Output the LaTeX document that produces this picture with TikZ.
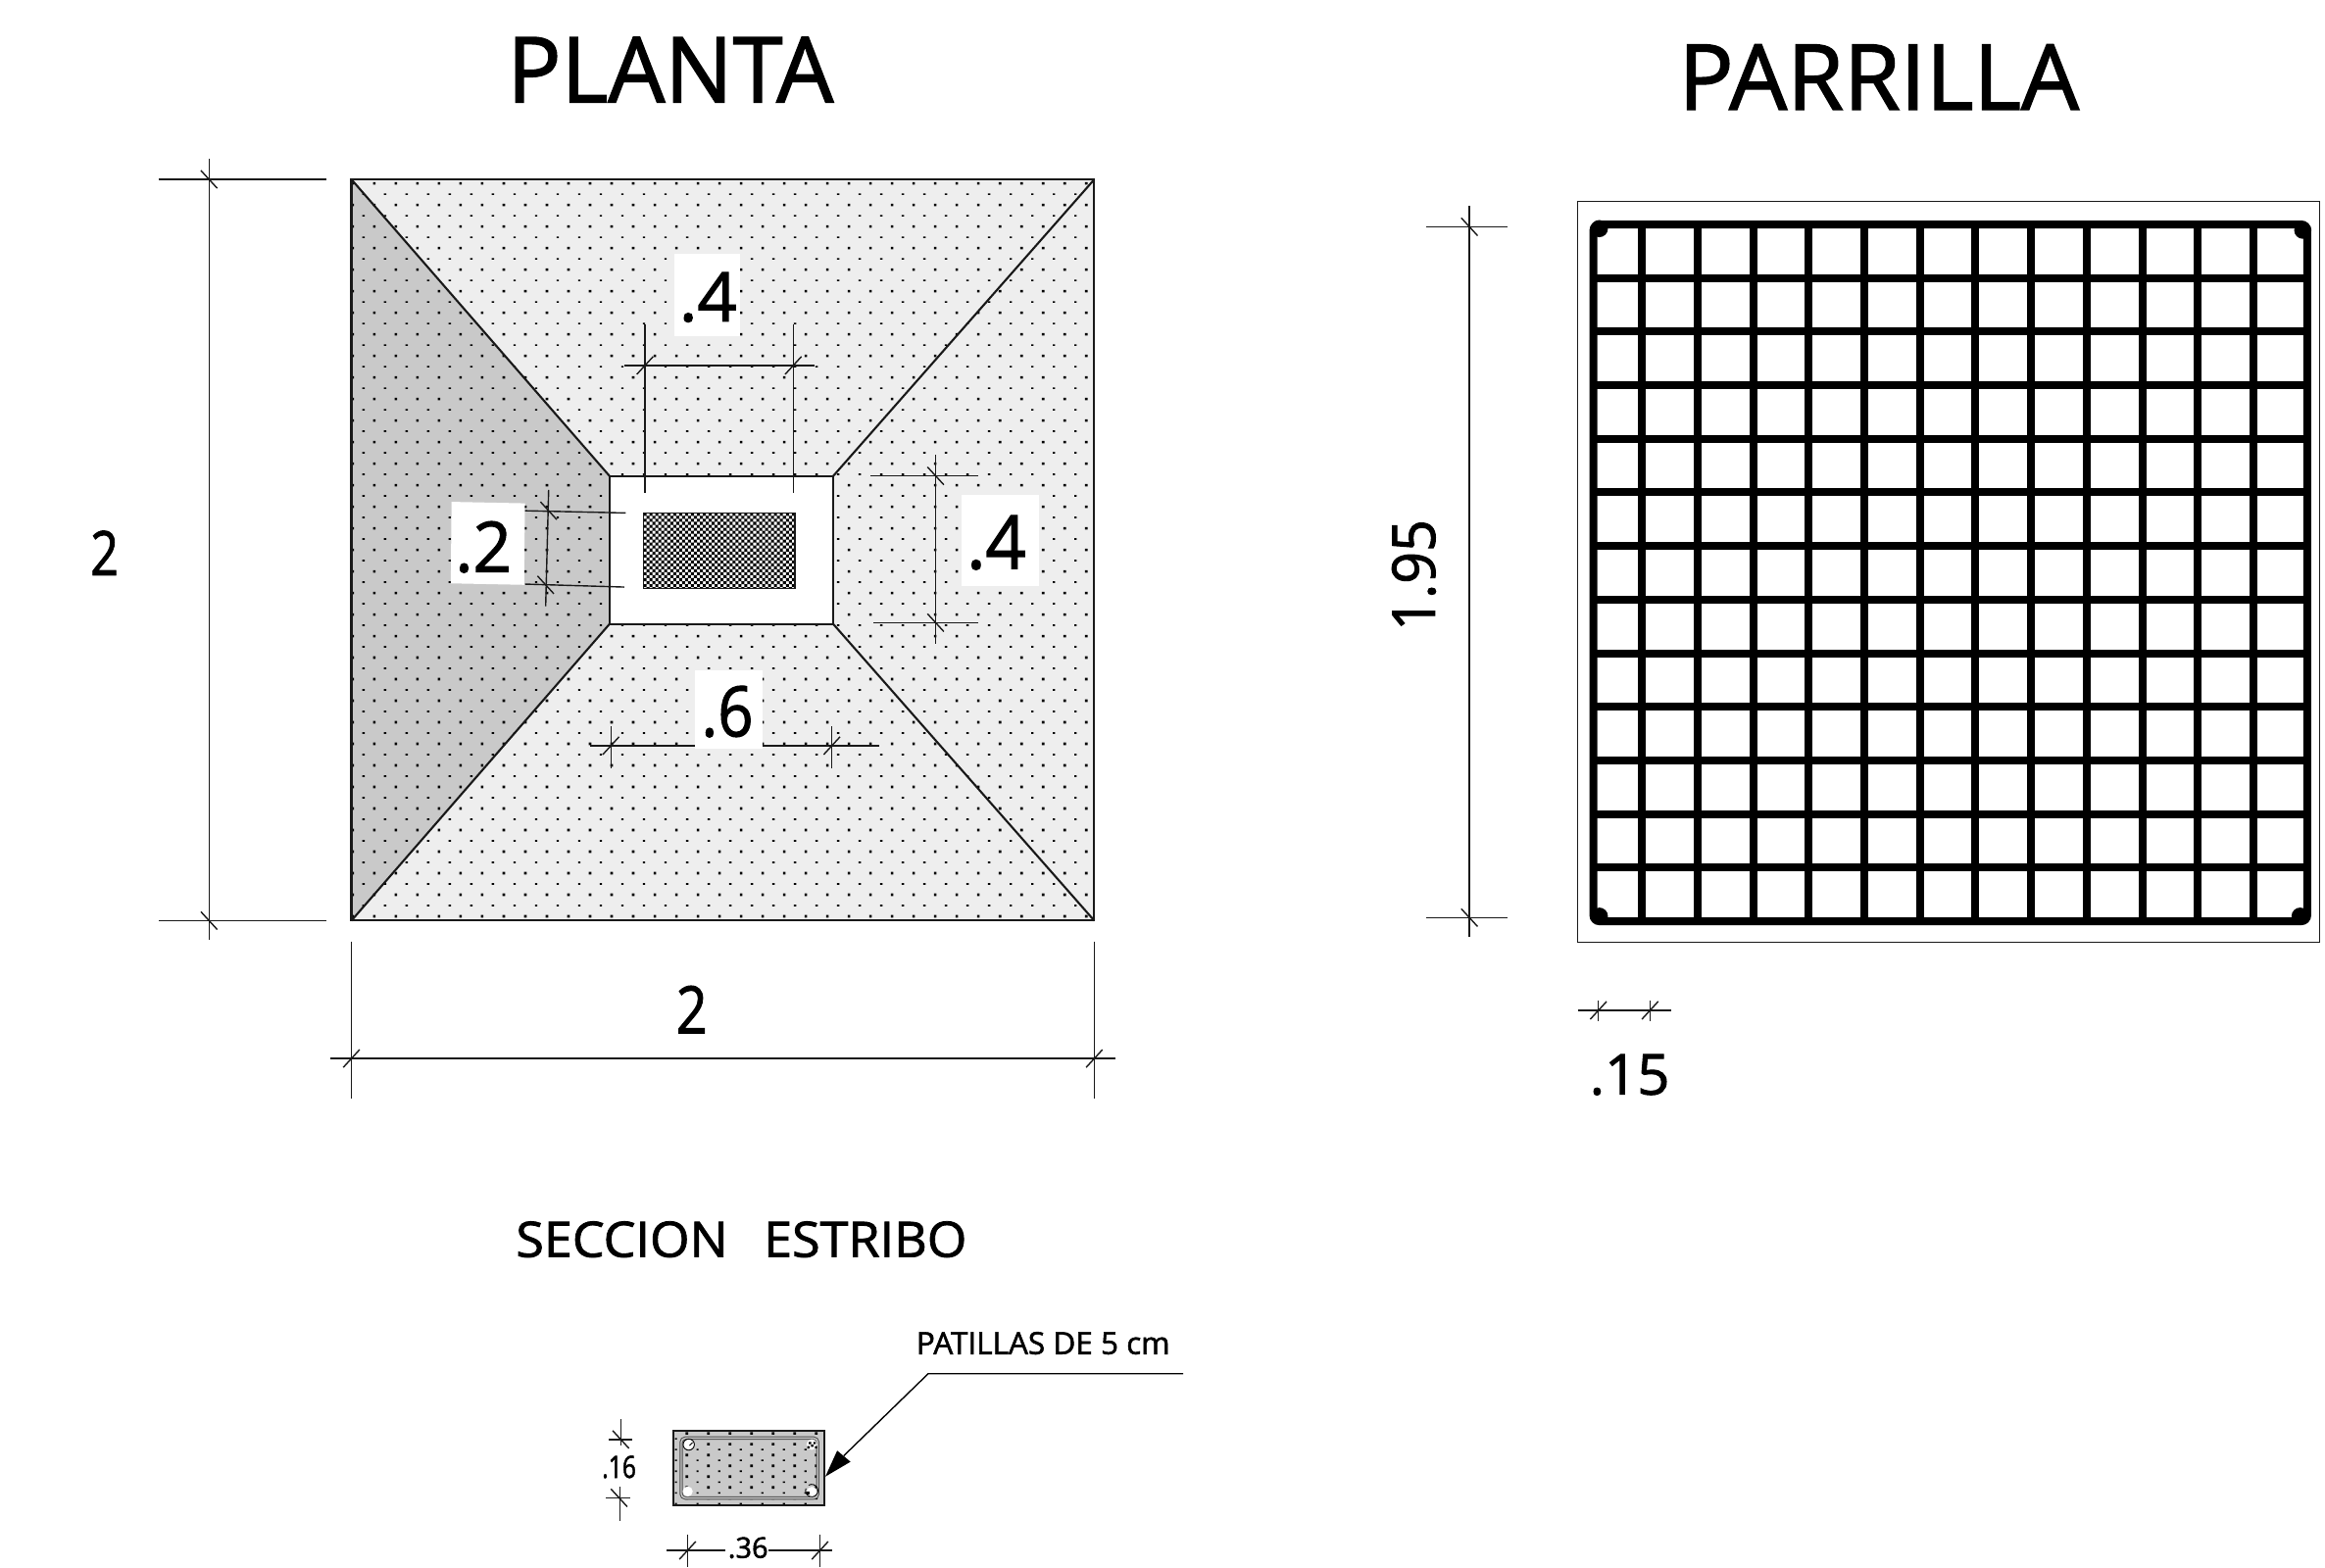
\documentclass[tikz,border=0pt]{standalone}
\usepackage{fontspec}
\usepackage{graphicx}
\setmainfont{Open Sans}[FakeBold=1.6]
\newlength\uu \setlength\uu{1.5128pt}
\newcommand\fitt[3]{\resizebox{#1\uu}{#2\uu}{#3}}
\definecolor{lightp}{HTML}{EEEEEE}
\definecolor{darkp}{HTML}{C9C9C9}
\tikzset{
  dimline/.style={line width=1.4pt,black!90},
  edgeline/.style={line width=2.1pt,black!90},
  lab/.style={inner sep=0pt,outer sep=0pt,anchor=center},
  whitepad/.style={fill=white,draw=none},
  barline/.style={line width=8pt,black}
}
\newcommand\tks[2]{\draw[dimline] ({#1-5.5},{#2+6}) -- ({#1+5.5},{#2-6});}
\newcommand\tkb[2]{\draw[dimline] ({#1-5.5},{#2-6}) -- ({#1+5.5},{#2+6});}
\begin{document}
\begin{tikzpicture}[x=1.5128pt,y=-1.5128pt]
\useasboundingbox (0,0) rectangle (1568,1057.6);
\fill[white] (0,0) rectangle (1568,1057.6);
% plan fills
\fill[lightp] (237,121) rectangle (738,621);
\fill[darkp] (237,121) -- (411,321) -- (411,421) -- (237,621) -- cycle;
% dots
\begin{scope}
\clip (237,121) rectangle (738,621);
\fill[black] foreach \r in {0,2,...,68} { foreach \c in {0,...,35} {
  ({237.9+14.55*\c-0.85},{123.7+7.27*\r-0.85}) rectangle +(1.7,1.7) } };
\fill[black] foreach \r in {1,3,...,67} { foreach \c in {0,...,35} {
  ({245.17+14.55*\c-0.8},{123.7+7.27*\r-0.55}) rectangle +(1.6,1.1) } };
\end{scope}
\fill[white] (411,321) rectangle (562,421);
\draw[edgeline] (237,121) rectangle (738,621);
\draw[edgeline] (411,321) rectangle (562,421);
\draw[edgeline] (237,121) -- (411,321) (738,121) -- (562,321) (237,621) -- (411,421) (738,621) -- (562,421);
% column
\begin{scope}
\clip (434,346) rectangle (536,397);
\fill[white] (434,346) rectangle (536,397);
\fill[black] foreach \r in {0,...,25} { foreach \c in {0,...,25} {
  ({434+4*\c+2*mod(\r,2)},{346+2*\r}) rectangle +(2,2) } };
\end{scope}
\draw[dimline] (434,346) rectangle (536,397);
% white pads
\fill[whitepad] (455,171) rectangle (499,227);
\fill[whitepad] (648.5,334) rectangle (700.6,395);
\fill[whitepad] (304.5,338.5) -- (354,339.5) -- (353.5,394.5) -- (304,393.5) -- cycle;
\fill[whitepad] (469,452) rectangle (514,505);
% outer dims
\draw[dimline] (141,107) -- (141,634) (107,121) -- (220,121) (107,621) -- (220,621);
\tkb{141}{121} \tkb{141}{621}
\node[lab] (dimleft) at (70.5,373) {\fitt{19}{30}{2}};
\draw[dimline] (223,714) -- (752,714) (237,635) -- (237,741) (738,635) -- (738,741);
\tks{237}{714} \tks{738}{714}
\node[lab] (dimbottom) at (466.5,681) {\fitt{21}{32}{2}};
% top .4
\draw[dimline] (435,219) -- (435,332.5) (535,219) -- (535,332.5) (421,246.5) -- (549,246.5);
\tks{435}{246.5} \tks{535}{246.5}
\node[lab] (dimtop) at (477.5,200.5) {\fitt{39}{33}{.4}};
% right .4
\draw[dimline] (631,307) -- (631,434) (587,321) -- (660,321) (589,420) -- (660,420);
\tkb{631}{321} \tkb{631}{420}
\node[lab] (dimright) at (672,366) {\fitt{40}{36}{.4}};
% left .2
\draw[dimline] (370,330.5) -- (368,409) (354,344.5) -- (422,346) (354,394) -- (421,396);
\tkb{370}{344.5} \tkb{368}{394.5}
\node[lab] (dimtwo) at (326,369) {\fitt{38}{34}{.2}};
% bottom .6
\draw[dimline] (412,490) -- (412,518) (561,490) -- (561,518) (398,503) -- (469,503) (514,503) -- (593,503);
\tks{412}{503} \tks{561}{503}
\node[lab] (dimsix) at (490.5,480) {\fitt{35}{34}{.6}};
% titles
\node[lab] (planta) at (452,47) {\fitt{220}{44}{PLANTA}};
\node[lab] (parrilla) at (1267,52) {\fitt{270}{44}{PARRILLA}};
\node[lab] (seccion) at (500,836) {\fitt{304}{24}{SECCION\hspace{0.7em}ESTRIBO}};
\node[lab] (patillas) at (703.5,906) {\fitt{171}{15}{PATILLAS DE 5 cm}};
% parrilla
\draw[dimline] (1064,136) rectangle (1564.5,635.7);
\draw[barline,rounded corners=6] (1074.6,151.4) rectangle (1556,621.4);
\foreach \i in {0,...,11} \draw[barline] ({1107.4+37.48*\i},151.4) -- ({1107.4+37.48*\i},621.4);
\foreach \j in {1,...,12} \draw[barline] (1074.6,{151.4+36.15*\j}) -- (1556,{151.4+36.15*\j});
\fill (1078.6,154.2) circle (5.8) (1553,155.3) circle (5.8) (1078.6,618) circle (5.8) (1551.2,618) circle (5.8);
\draw[dimline] (991,139) -- (991,632) (962,153) -- (1017,153) (962,619) -- (1017,619);
\tkb{991}{153} \tkb{991}{619}
\node[lab,rotate=90] (dimheight) at (953.5,388) {\fitt{75}{29}{1.95}};
\draw[dimline] (1064,681.5) -- (1127,681.5) (1078,674.7) -- (1078,689) (1112.8,674.7) -- (1112.8,689);
\tks{1078}{681.5} \tks{1112.8}{681.5}
\node[lab] (dimspacing) at (1099,725) {\fitt{54}{27}{.15}};
% section
\fill[darkp] (454.3,965) rectangle (556,1015.4);
\begin{scope}
\clip (454.3,965) rectangle (556,1015.4);
\fill[black] foreach \r in {0,2,...,14} { foreach \c in {0,...,7} {
  ({448.65+14.55*\c-0.85},{966.9+3.64*\r-0.85}) rectangle +(1.7,1.7) } };
\fill[black] foreach \r in {1,3,...,13} { foreach \c in {0,...,6} {
  ({455.9+14.55*\c-0.7},{966.9+3.64*\r-0.5}) rectangle +(1.4,1) } };
\end{scope}
\draw[edgeline] (454.3,965) rectangle (556,1015.4);
\draw[line width=3.4pt,black!70,rounded corners=4.4] (459.4,970) rectangle (551.5,1010.5);
\draw[line width=1.4pt,darkp,rounded corners=4.4] (459.4,970) rectangle (551.5,1010.5);
\fill[white] (464.5,974.4) circle (3.6) (463.8,1006) circle (3.4) (547.5,974.4) circle (3.6) (547.5,1006.5) circle (3.6);
\draw[line width=0.9pt] (464.5,974.4) circle (3.8);
\draw[line width=0.9pt] (465,975) -- (467,973);
\fill (545.5,972.6) rectangle +(1.6,1.6) (548.5,972.6) rectangle +(1.6,1.6) (547,974.4) rectangle +(1.6,1.6) (544.5,975.4) rectangle +(1.6,1.6) (549.5,975.4) rectangle +(1.6,1.6);
\draw[line width=0.9pt] (543.5,1004) arc (200:-120:4.2);
\fill (543.8,1006) rectangle +(2.2,2.2);
% leader
\draw[line width=1.4pt] (798,926.6) -- (626,926.6) -- (569,982);
\fill (556.6,996) -- (564.6,978.5) -- (573.6,986) -- cycle;
% section dims
\draw[dimline] (418.7,957.5) -- (418.7,975) (410.6,971) -- (426.4,971) (418,1003) -- (418,1025.6) (408.6,1010.3) -- (425,1010.3);
\tkb{418.7}{971} \tkb{417.5}{1010.3}
\node[lab] (dimsixteen) at (417.5,989.5) {\fitt{23}{15}{.16}};
\draw[dimline] (463.7,1035) -- (463.7,1057) (553,1035) -- (553,1057) (449.7,1045.8) -- (489,1045.8) (518,1045.8) -- (561,1045.8);
\tks{463.7}{1045.8} \tks{553}{1045.8}
\node[lab] (dimthirtysix) at (504.5,1044) {\fitt{27}{14}{.36}};
\end{tikzpicture}
\end{document}
